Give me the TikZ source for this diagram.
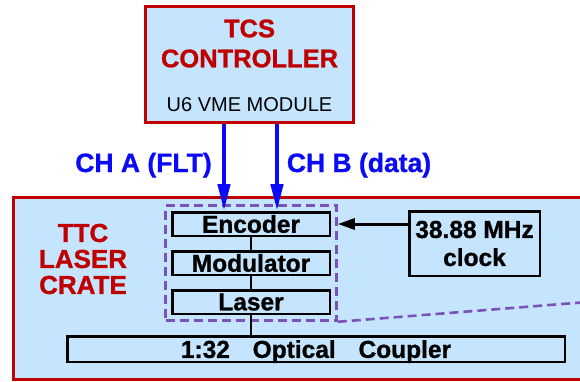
\documentclass[tikz,border=0pt]{standalone}
\usepackage{fontspec}
\setmainfont{Liberation Sans}[BoldFeatures={FakeBold=1}]
\usepackage{xcolor}
\definecolor{crateblue}{HTML}{C4E5FD}
\definecolor{cratered}{HTML}{C00000}
\definecolor{chblue}{HTML}{0A0AF5}
\definecolor{grpviolet}{HTML}{7B52B8}
\usetikzlibrary{positioning, arrows.meta, fit, calc}
\tikzset{
    redbox/.style = {draw=cratered, fill=crateblue, line width=3pt, inner sep=0pt},
    block/.style = {draw=black, fill=crateblue, line width=2.5pt, inner sep=0pt,
                    font=\fontsize{24.5}{28}\selectfont\bfseries},
    grpline/.style = {draw=grpviolet, line width=2.6pt, dash pattern=on 9pt off 5pt},
    grp/.style = {grpline, inner sep=5.5pt},
    chan/.style = {-{Triangle[length=27pt, width=12pt]}, line width=4.5pt, color=chblue},
    clk/.style = {-{Triangle[length=17pt, width=11pt]}, line width=3pt, color=black},
    link/.style = {line width=2.5pt, color=black},
    redlabel/.style = {color=cratered, font=\fontsize{26}{26}\selectfont\bfseries, align=center},
    chlabel/.style = {color=chblue, font=\fontsize{26.5}{30}\selectfont\bfseries, anchor=base},
}

\begin{document}
\begin{tikzpicture}[x=1pt, y=-1pt]
        \useasboundingbox (0,0) rectangle (580,382);
        \clip (0,0) rectangle (580,382);
        % laser crate, runs off the right edge
        \draw[redbox] (13.5,197.5) rectangle (620,379.5);
        \node[redlabel] (cratename) at (83,259) {TTC\\LASER\\CRATE};
        % controller
        \node[redbox, minimum width=208pt, minimum height=116pt] (tcs) at (249.5,64.5) {};
        \node[redlabel, font=\fontsize{25.5}{30}\selectfont\bfseries] (tcsname) at (249.5,43.5) {TCS\\CONTROLLER};
        \node[font=\fontsize{20}{20}\selectfont, anchor=base] (vme) at (249.5,112) {U6 VME MODULE};
        % transmitter chain
        \node[block, minimum width=157.5pt, minimum height=23.5pt] (enc) at (251,224) {Encoder};
        \node[block, minimum width=157.5pt, minimum height=23.5pt] (modu) at (251,263) {Modulator};
        \node[block, minimum width=157.5pt, minimum height=23.5pt] (las) at (251,302) {Laser};
        \node[block, minimum width=497.5pt, minimum height=25.5pt, text depth=0pt] (coupler) at (316,349)
            {1:32\hspace{16pt} Optical\hspace{16pt} Coupler};
        \node[block, align=center, minimum width=130.5pt, minimum height=64.5pt] (clock) at (474.5,243.5) {38.88 MHz\\clock};
        \node[grp, fit=(enc)(modu)(las)] (grp) {};
        \coordinate (spill) at (600,301);
        \draw[link] (enc) -- (modu);
        \draw[link] (modu) -- (las);
        \draw[link] (las.south) -- (las.south |- coupler.north);
        \draw[clk] (clock.west |- enc.center) -- (grp.east |- enc.center);
        \draw[grpline] (grp.south east) -- (spill);
        % channels
        \draw[chan] ([xshift=-27pt]enc.north |- tcs.south) -- ([xshift=-27pt]enc.north);
        \draw[chan] ([xshift=26pt]enc.north |- tcs.south) -- ([xshift=26pt]enc.north);
        \node[chlabel] (chA) at (143.5,172) {CH A (FLT)};
        \node[chlabel] (chB) at (359,172) {CH B (data)};
      \end{tikzpicture}
\end{document}
